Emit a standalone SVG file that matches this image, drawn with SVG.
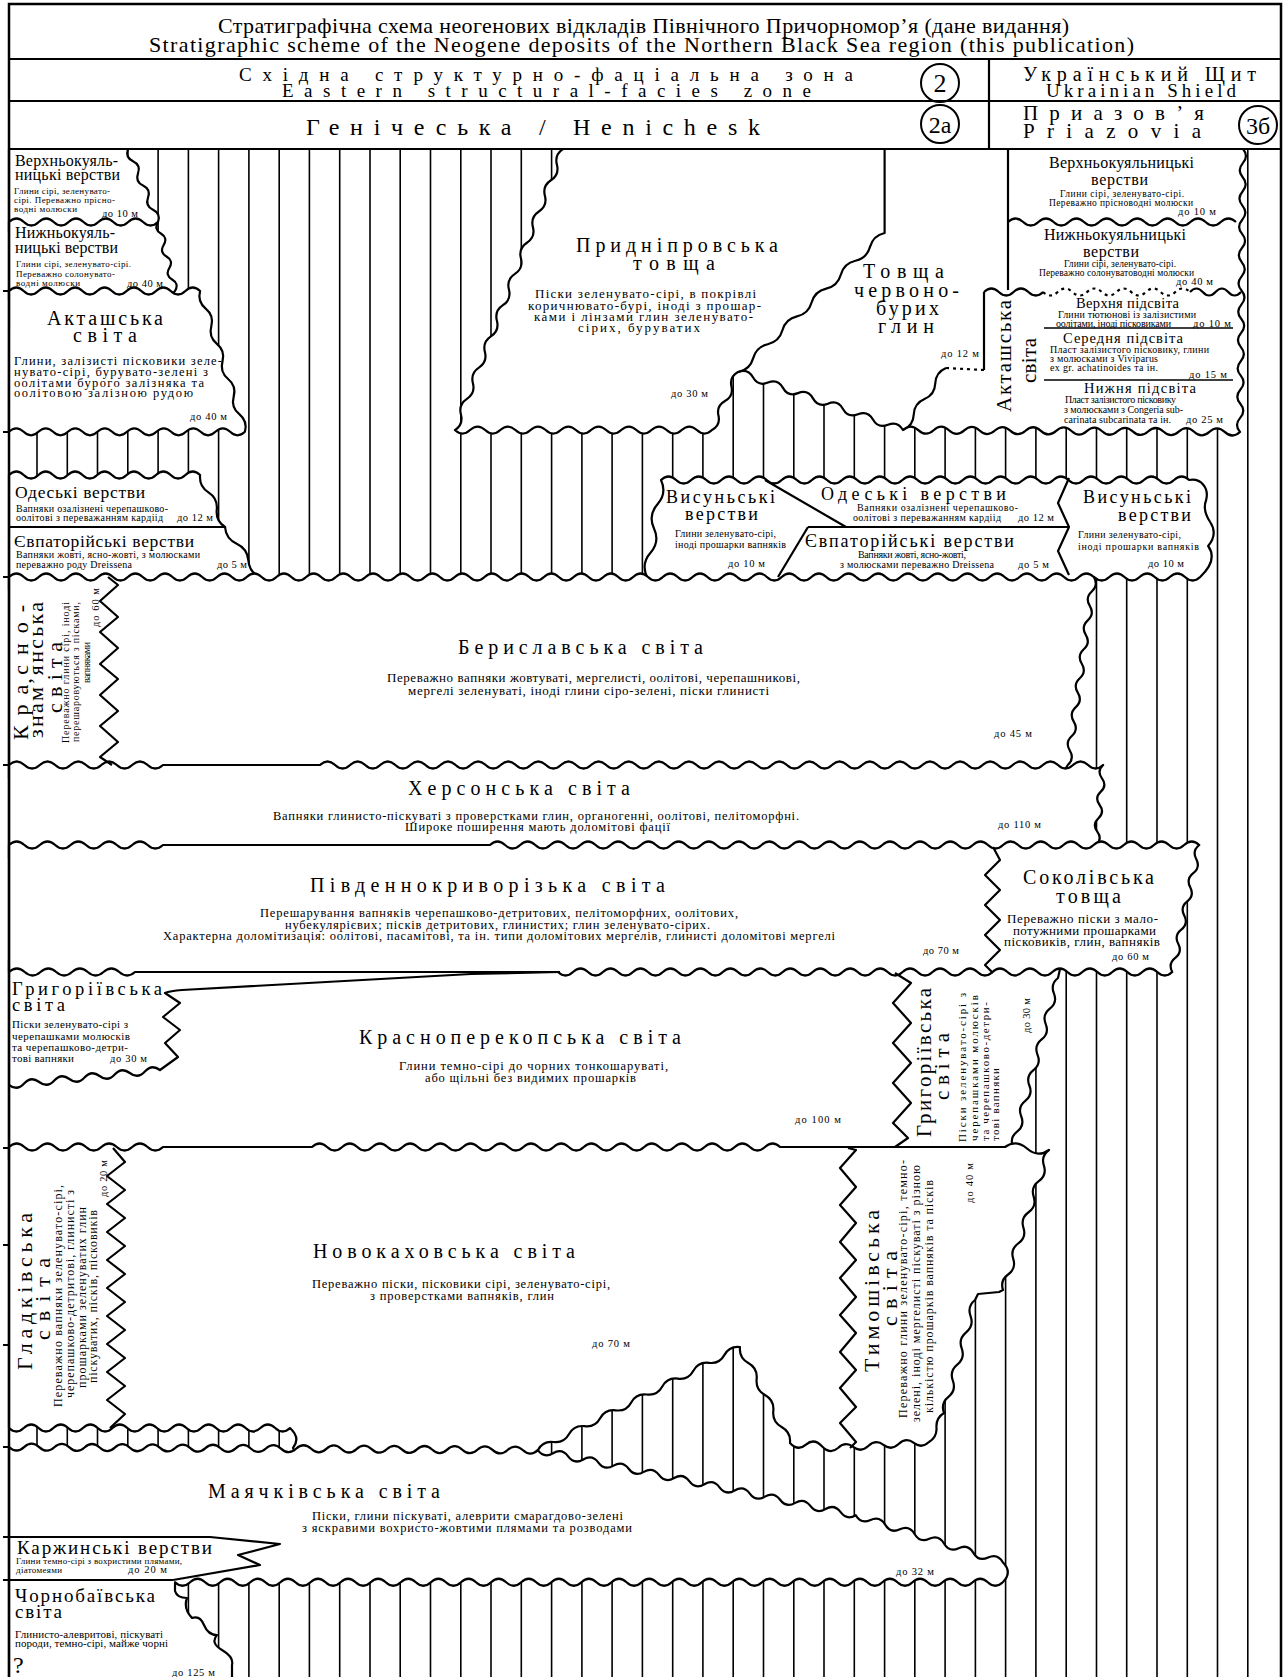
<svg xmlns="http://www.w3.org/2000/svg" width="1284" height="1677" viewBox="0 0 1284 1677">
<style>
text{font-family:"Liberation Serif","Times New Roman",serif;fill:#000}
.fm{fill:#fff;stroke:#000;stroke-width:2.2;stroke-linejoin:round}
.ln{fill:none;stroke:#000;stroke-width:2.2;stroke-linejoin:round}
.tn{fill:none;stroke:#000;stroke-width:1.6}
.dt{fill:none;stroke:#000;stroke-width:2.2;stroke-dasharray:3 4}
.hl{fill:none;stroke:#000;stroke-width:1.6}
.n{font-size:20px}
.b{font-size:12.5px}
.s{font-size:10px}
.xs{font-size:9px}
.th{font-size:10.5px}
.sh{font-size:16px}
</style>
<rect x="0" y="0" width="1284" height="1677" fill="#fff"/>
<g id="hatch">
<path class="hl" d="M37,149V1677M67.3,149V1677M97.5,149V1677M127.8,149V1677M158.1,149V1677M188.4,149V1677M218.6,149V1677M248.9,149V1677M279.2,149V1677M309.4,149V1677M339.7,149V1677M370,149V1677M400.2,149V1677M430.5,149V1677M460.8,149V1677M491,149V1677M521.3,149V1677M551.6,149V1677M581.9,149V1677M612.1,149V1677M642.4,149V1677M672.7,149V1677M702.9,149V1677M733.2,149V1677M763.5,149V1677M793.8,149V1677M824,149V1677M854.3,149V1677M884.6,149V1677M914.8,149V1677M945.1,149V1677M975.4,149V1677M1005.6,149V1677M1035.9,149V1677M1066.2,149V1677M1096.5,149V1677M1126.7,149V1677M1157,149V1677M1187.3,149V1677M1217.5,149V1677M1247.8,149V1677"/>
</g>
<g id="formations">
<path id="verkhnokuialnytski-l" class="fm" d="M9,149 H128 q-3,8.4 5,12.17 t5,12.17 t5,12.17 t5,12.17 t5,12.17 t5,12.17 L150,232 H9 Z"/>
<path id="nyzhnokuialnytski-l" class="fm" d="M9,222 q7.45,-7 14.9,0 t14.9,0 t14.9,0 t14.9,0 t14.9,0 t14.9,0 t14.9,0 t14.9,0 t14.9,0 t14.9,0 q-4.4,7.2 2.83,11.5 t2.83,11.5 t2.83,11.5 t2.83,11.5 t2.83,11.5 t2.83,11.5 L167,300 H9 Z"/>
<path id="aktashska-l" class="fm" d="M9,291 q7.35,-7 14.7,0 t14.7,0 t14.7,0 t14.7,0 t14.7,0 t14.7,0 t14.7,0 t14.7,0 t14.7,0 t14.7,0 t14.7,0 t14.7,0 t14.7,0 q-2.9,10.6 5.6,17.6 t5.6,17.6 t5.6,17.6 t5.6,17.6 t5.6,17.6 t5.6,17.6 t5.6,17.6 t5.6,17.6 q-7.38,7 -14.75,0 t-14.75,0 t-14.75,0 t-14.75,0 t-14.75,0 t-14.75,0 t-14.75,0 t-14.75,0 t-14.75,0 t-14.75,0 t-14.75,0 t-14.75,0 t-14.75,0 t-14.75,0 t-14.75,0 t-14.75,0 Z"/>
<path id="odeski-l" class="fm" d="M9,475 q7.35,-7 14.7,0 t14.7,0 t14.7,0 t14.7,0 t14.7,0 t14.7,0 t14.7,0 t14.7,0 t14.7,0 t14.7,0 t14.7,0 t14.7,0 t14.7,0 q-1.2,11.3 8.33,17.33 t8.33,17.33 t8.33,17.33 H9 Z"/>
<path id="yevpatoriiski-l" class="fm" d="M9,527 H225 q0.93,11.8 11.67,16.67 t11.67,16.67 t11.67,16.67 L250,590 H9 Z"/>
<path id="prydniprovska-tovshcha-pryazovia" class="fm" d="M563,149 H1243 q6,7.08 -0.15,14.15 t-0.15,14.15 t-0.15,14.15 t-0.15,14.15 t-0.15,14.15 t-0.15,14.15 t-0.15,14.15 t-0.15,14.15 t-0.15,14.15 t-0.15,14.15 t-0.15,14.15 t-0.15,14.15 t-0.15,14.15 t-0.15,14.15 t-0.15,14.15 t-0.15,14.15 t-0.15,14.15 t-0.15,14.15 t-0.15,14.15 t-0.15,14.15 q-7.66,7 -15.32,-0.09 t-15.32,-0.09 t-15.32,-0.09 t-15.32,-0.09 t-15.32,-0.09 t-15.32,-0.09 t-15.32,-0.09 t-15.32,-0.09 t-15.32,-0.09 t-15.32,-0.09 t-15.32,-0.09 t-15.32,-0.09 t-15.32,-0.09 t-15.32,-0.09 t-15.32,-0.09 t-15.32,-0.09 t-15.32,-0.09 t-15.32,-0.09 t-15.32,-0.09 t-15.32,-0.09 t-15.32,-0.09 t-15.32,-0.09 q-5.18,-9.24 -15,-5.27 t-15,-5.27 t-15,-5.27 t-15,-5.27 t-15,-5.27 t-15,-5.27 t-15,-5.27 t-15,-5.27 t-15,-5.27 t-15,-5.27 t-15,-5.27 q-8.72,4.8 -6.5,14.5 t-6.5,14.5 t-6.5,14.5 t-6.5,14.5 q-7.56,7 -15.12,0 t-15.12,0 t-15.12,0 t-15.12,0 t-15.12,0 t-15.12,0 t-15.12,0 t-15.12,0 t-15.12,0 t-15.12,0 t-15.12,0 t-15.12,0 t-15.12,0 t-15.12,0 t-15.12,0 t-15.12,0 t-15.12,0 q8.6,-5.65 6,-15.61 t6,-15.61 t6,-15.61 t6,-15.61 t6,-15.61 t6,-15.61 t6,-15.61 t6,-15.61 t6,-15.61 t6,-15.61 t6,-15.61 t6,-15.61 t6,-15.61 t6,-15.61 t6,-15.61 t6,-15.61 t6,-15.61 t6,-15.61 Z"/>
<path id="vysunski-odeski-yevpatoriiski-m" class="fm" d="M661,480 q7.54,-7 15.09,0 t15.09,0 t15.09,0 t15.09,0 t15.09,0 t15.09,0 t15.09,0 t15.09,0 t15.09,0 t15.09,0 t15.09,0 t15.09,0 t15.09,0 t15.09,0 t15.09,0 t15.09,0 t15.09,0 t15.09,0 t15.09,0 t15.09,0 t15.09,0 t15.09,0 t15.09,0 t15.09,0 t15.09,0 t15.09,0 t15.09,0 t15.09,0 t15.09,0 t15.09,0 t15.09,0 t15.09,0 t15.09,0 t15.09,0 t15.09,0 c12,-2 20,8 17,20 q-4,10 4,22 q8,12 -2,24 q10,14 -8,31 q-7.57,7 -15.14,0 t-15.14,0 t-15.14,0 t-15.14,0 t-15.14,0 t-15.14,0 t-15.14,0 L1085,592 H655 L647,577 q-6.15,-13.3 3.5,-24.25 t3.5,-24.25 t3.5,-24.25 t3.5,-24.25 Z"/>
<path id="beryslavska" class="fm" d="M9,577 q7.43,-7 14.86,0 t14.86,0 t14.86,0 t14.86,0 t14.86,0 t14.86,0 t14.86,0 t14.86,0 t14.86,0 t14.86,0 t14.86,0 t14.86,0 t14.86,0 t14.86,0 t14.86,0 t14.86,0 t14.86,0 t14.86,0 t14.86,0 t14.86,0 t14.86,0 t14.86,0 t14.86,0 t14.86,0 t14.86,0 t14.86,0 t14.86,0 t14.86,0 t14.86,0 t14.86,0 t14.86,0 t14.86,0 t14.86,0 t14.86,0 t14.86,0 t14.86,0 t14.86,0 t14.86,0 t14.86,0 t14.86,0 t14.86,0 t14.86,0 t14.86,0 t14.86,0 t14.86,0 t14.86,0 t14.86,0 t14.86,0 t14.86,0 t14.86,0 t14.86,0 t14.86,0 t14.86,0 t14.86,0 t14.86,0 t14.86,0 t14.86,0 t14.86,0 t14.86,0 t14.86,0 t14.86,0 t14.86,0 t14.86,0 t14.86,0 t14.86,0 t14.86,0 t14.86,0 t14.86,0 t14.86,0 t14.86,0 t14.86,0 t14.86,0 t14.86,0 q4.94,8.05 -2,14.46 t-2,14.46 t-2,14.46 t-2,14.46 t-2,14.46 t-2,14.46 t-2,14.46 t-2,14.46 t-2,14.46 t-2,14.46 t-2,14.46 t-2,14.46 t-2,14.46 L1060,778 H9 Z"/>
<path id="khersonska" class="fm" d="M9,765 q7.7,-7 15.4,0 t15.4,0 t15.4,0 t15.4,0 t15.4,0 t15.4,0 t15.4,0 t15.4,0 t15.4,0 t15.4,0 H320 q7.53,-7 15.06,0 t15.06,0 t15.06,0 t15.06,0 t15.06,0 t15.06,0 t15.06,0 t15.06,0 t15.06,0 t15.06,0 t15.06,0 t15.06,0 t15.06,0 t15.06,0 t15.06,0 t15.06,0 t15.06,0 t15.06,0 t15.06,0 t15.06,0 t15.06,0 t15.06,0 t15.06,0 t15.06,0 t15.06,0 t15.06,0 t15.06,0 t15.06,0 t15.06,0 t15.06,0 t15.06,0 t15.06,0 t15.06,0 t15.06,0 t15.06,0 t15.06,0 t15.06,0 t15.06,0 t15.06,0 t15.06,0 t15.06,0 t15.06,0 t15.06,0 t15.06,0 t15.06,0 t15.06,0 t15.06,0 t15.06,0 t15.06,0 t15.06,0 t15.06,0 t15.06,0 q-6.56,6.15 -1.17,13.33 t-1.17,13.33 t-1.17,13.33 t-1.17,13.33 t-1.17,13.33 t-1.17,13.33 L1088,858 H9 Z"/>
<path id="krasnoperekopska-hryhoriivska" class="fm" d="M9,960 H1062 L1058,978 q-7.85,6.14 -4.09,15.36 t-4.09,15.36 t-4.09,15.36 t-4.09,15.36 t-4.09,15.36 t-4.09,15.36 t-4.09,15.36 t-4.09,15.36 t-4.09,15.36 t-4.09,15.36 t-4.09,15.36 L1005,1160 H9 Z"/>
<path id="pivdennokryvorizka-sokolivska" class="fm" d="M9,845 q7.7,-7 15.4,0 t15.4,0 t15.4,0 t15.4,0 t15.4,0 t15.4,0 t15.4,0 t15.4,0 t15.4,0 t15.4,0 H490 q7.54,-7 15.09,0 t15.09,0 t15.09,0 t15.09,0 t15.09,0 t15.09,0 t15.09,0 t15.09,0 t15.09,0 t15.09,0 t15.09,0 t15.09,0 t15.09,0 t15.09,0 t15.09,0 t15.09,0 t15.09,0 t15.09,0 t15.09,0 t15.09,0 t15.09,0 t15.09,0 t15.09,0 t15.09,0 t15.09,0 t15.09,0 t15.09,0 t15.09,0 t15.09,0 t15.09,0 t15.09,0 t15.09,0 t15.09,0 t15.09,0 t15.09,0 t15.09,0 t15.09,0 t15.09,0 t15.09,0 t15.09,0 t15.09,0 t15.09,0 t15.09,0 t15.09,0 t15.09,0 t15.09,0 t15.09,0 q-7.37,5.81 -3,14.11 t-3,14.11 t-3,14.11 t-3,14.11 t-3,14.11 t-3,14.11 t-3,14.11 t-3,14.11 t-3,14.11 q-7.49,7 -14.98,0 t-14.98,0 t-14.98,0 t-14.98,0 t-14.98,0 t-14.98,0 t-14.98,0 t-14.98,0 t-14.98,0 t-14.98,0 t-14.98,0 t-14.98,0 t-14.98,0 t-14.98,0 t-14.98,0 t-14.98,0 t-14.98,0 t-14.98,0 t-14.98,0 t-14.98,0 t-14.98,0 t-14.98,0 t-14.98,0 t-14.98,0 t-14.98,0 t-14.98,0 t-14.98,0 t-14.98,0 t-14.98,0 t-14.98,0 t-14.98,0 t-14.98,0 t-14.98,0 t-14.98,0 t-14.98,0 t-14.98,0 t-14.98,0 t-14.98,0 t-14.98,0 t-14.98,0 t-14.98,0 H135 q-7.88,7 -15.75,0 t-15.75,0 t-15.75,0 t-15.75,0 t-15.75,0 t-15.75,0 t-15.75,0 t-15.75,0 Z"/>
<path id="novokakhovska-hladkivska-tymoshivska" class="fm" d="M9,1147 q7.7,-7 15.4,0 t15.4,0 t15.4,0 t15.4,0 t15.4,0 t15.4,0 t15.4,0 t15.4,0 t15.4,0 t15.4,0 H312 q7.55,-7 15.1,0 t15.1,0 t15.1,0 t15.1,0 t15.1,0 t15.1,0 t15.1,0 t15.1,0 t15.1,0 t15.1,0 t15.1,0 t15.1,0 t15.1,0 t15.1,0 t15.1,0 t15.1,0 t15.1,0 t15.1,0 t15.1,0 t15.1,0 t15.1,0 t15.1,0 t15.1,0 t15.1,0 t15.1,0 t15.1,0 t15.1,0 t15.1,0 t15.1,0 t15.1,0 t15.1,0 H1005 q11,-8 22,1.5 t22,1.5 q-8.26,5.91 -5.11,15.56 t-5.11,15.56 t-5.11,15.56 t-5.11,15.56 t-5.11,15.56 t-5.11,15.56 t-5.11,15.56 t-5.11,15.56 t-5.11,15.56 L999,1292 L978,1294 L975,1300 q-8,6.48 -4.43,16.14 t-4.43,16.14 t-4.43,16.14 t-4.43,16.14 t-4.43,16.14 t-4.43,16.14 t-4.43,16.14 q-8.2,4.95 -7.5,14.5 t-7.5,14.5 q-7.58,7 -15.17,1 t-15.17,1 t-15.17,1 t-15.17,1 t-15.17,1 t-15.17,1 q-8,7 -16,-1.67 t-16,-1.67 t-16,-1.67 q1.15,-10.77 -8.33,-16 t-8.33,-16 t-8.33,-16 t-8.33,-16 t-8.33,-16 t-8.33,-16 q-10.49,-1.39 -15.54,7.92 t-15.54,7.92 t-15.54,7.92 t-15.54,7.92 t-15.54,7.92 t-15.54,7.92 t-15.54,7.92 t-15.54,7.92 t-15.54,7.92 t-15.54,7.92 t-15.54,7.92 t-15.54,7.92 t-15.54,7.92 L530,1462 H300 L293,1448 q8,-10 -3,-20 q-7.4,7 -14.79,0 t-14.79,0 t-14.79,0 t-14.79,0 t-14.79,0 t-14.79,0 t-14.79,0 t-14.79,0 t-14.79,0 t-14.79,0 t-14.79,0 t-14.79,0 t-14.79,0 t-14.79,0 t-14.79,0 t-14.79,0 t-14.79,0 t-14.79,0 t-14.79,0 Z"/>
<path id="maiachkivska-karzhynski-chornobaivska" class="fm" d="M9,1447 q7.56,7 15.11,0.09 t15.11,0.09 t15.11,0.09 t15.11,0.09 t15.11,0.09 t15.11,0.09 t15.11,0.09 t15.11,0.09 t15.11,0.09 t15.11,0.09 t15.11,0.09 t15.11,0.09 t15.11,0.09 t15.11,0.09 t15.11,0.09 t15.11,0.09 t15.11,0.09 t15.11,0.09 t15.11,0.09 t15.11,0.09 t15.11,0.09 t15.11,0.09 t15.11,0.09 t15.11,0.09 t15.11,0.09 t15.11,0.09 t15.11,0.09 t15.11,0.09 t15.11,0.09 t15.11,0.09 t15.11,0.09 t15.11,0.09 t15.11,0.09 t15.11,0.09 t15.11,0.09 q6.17,8.41 15.14,3.1 t15.14,3.1 t15.14,3.1 t15.14,3.1 t15.14,3.1 t15.14,3.1 t15.14,3.1 t15.14,3.1 t15.14,3.1 t15.14,3.1 t15.14,3.1 t15.14,3.1 t15.14,3.1 t15.14,3.1 t15.14,3.1 t15.14,3.1 t15.14,3.1 t15.14,3.1 t15.14,3.1 t15.14,3.1 t15.14,3.1 q5.22,9.02 14.7,4.7 t14.7,4.7 t14.7,4.7 t14.7,4.7 t14.7,4.7 t14.7,4.7 t14.7,4.7 t14.7,4.7 t14.7,4.7 t14.7,4.7 q10,10 0,20 q-7.53,7 -15.05,0 t-15.05,0 t-15.05,0 t-15.05,0 t-15.05,0 t-15.05,0 t-15.05,0 t-15.05,0 t-15.05,0 t-15.05,0 t-15.05,0 t-15.05,0 t-15.05,0 t-15.05,0 t-15.05,0 t-15.05,0 t-15.05,0 t-15.05,0 t-15.05,0 t-15.05,0 t-15.05,0 t-15.05,0 t-15.05,0 t-15.05,0 t-15.05,0 t-15.05,0 t-15.05,0 t-15.05,0 t-15.05,0 t-15.05,0 t-15.05,0 t-15.05,0 t-15.05,0 t-15.05,0 t-15.05,0 t-15.05,0 t-15.05,0 t-15.05,0 t-15.05,0 t-15.05,0 t-15.05,0 t-15.05,0 t-15.05,0 t-15.05,0 t-15.05,0 t-15.05,0 t-15.05,0 t-15.05,0 t-15.05,0 t-15.05,0 t-15.05,0 t-15.05,0 t-15.05,0 t-15.05,0 t-15.05,0 L175,1591 Q177,1598 187,1598 q-4,10 5,20 q8,-3 12,7 t13,10 q-7,8 5,15 t10,15 V1680 H9 Z"/>
</g>
<g id="boundaries">
<path class="ln" d="M884.6,149 V233 q-11.44,2.6 -14.6,13.9 t-14.6,13.9 t-14.6,13.9 t-14.6,13.9 t-14.6,13.9 t-14.6,13.9 t-14.6,13.9 t-14.6,13.9 t-14.6,13.9 t-14.6,13.9"/>
<path class="ln" d="M1008,149 V290"/>
<path class="ln" d="M1008,222 q7.6,-7 15.2,0 t15.2,0 t15.2,0 t15.2,0 t15.2,0 t15.2,0 t15.2,0 t15.2,0 t15.2,0 t15.2,0 t15.2,0 t15.2,0 t15.2,0 t15.2,0 t15.2,0"/>
<path class="ln" d="M984,292 q7.4,-7 14.8,0 t14.8,0 t14.8,0 t14.8,0"/>
<path class="dt" d="M1043,292 q7.35,7 14.7,0 t14.7,0 t14.7,0 t14.7,0 t14.7,0 t14.7,0 t14.7,0 t14.7,0 t14.7,0 t14.7,0"/>
<path class="ln" d="M1190,292 q6.4,-7 12.75,0 t12.75,0 t12.75,0 t12.75,0"/>
<path class="ln" d="M984,292 V370"/>
<path class="dt" d="M984,370 L946,368"/>
<path class="ln" d="M946,368 q-10.3,4.33 -10.75,15.5 t-10.75,15.5 t-10.75,15.5 t-10.75,15.5"/>
<path class="tn" d="M1044,328 H1233 M1044,380 H1233"/>
<path class="ln" d="M765,480 L846,527 M808,527 H1069 M808,527 L778,577 M1069,478 L1058,503 L1069,527 L1058,551 L1069,575"/>
<path class="ln" d="M108,577 L118,585 L100,601 L118,617 L100,632 L118,648 L100,664 L118,679 L100,695 L118,711 L100,726 L118,742 L100,757 L112,765"/>
<path class="ln" d="M993,847 L1000,860 L985,875 L1000,890 L985,905 L1000,920 L985,935 L1000,950 L985,965 L993,973"/>
<path class="ln" d="M560,972 L471,974 L182,990 Q170,991 165,993 L180,1003 L163,1017 L180,1030 L165,1043 L178,1057 L160,1070 q-8.24,-6.22 -15.1,1.5 t-15.1,1.5 t-15.1,1.5 t-15.1,1.5 t-15.1,1.5 t-15.1,1.5 t-15.1,1.5 t-15.1,1.5 t-15.1,1.5 t-15.1,1.5"/>
<path class="ln" d="M895,973 L911,983 L893,1003 L911,1023 L893,1043 L911,1063 L893,1083 L911,1103 L893,1123 L908,1138 L895,1147"/>
<path class="ln" d="M113,1148 L125,1162 L107,1176 L125,1190 L107,1204 L125,1218 L107,1232 L125,1246 L107,1260 L125,1274 L107,1288 L125,1302 L107,1316 L125,1330 L107,1344 L125,1358 L107,1372 L125,1386 L107,1400 L125,1414 L110,1428"/>
<path class="ln" d="M848,1148 L856,1150 L840,1168 L856,1187 L840,1205 L856,1223 L840,1242 L856,1260 L840,1278 L856,1297 L840,1315 L856,1333 L840,1352 L856,1370 L840,1388 L856,1407 L840,1423 L856,1442 L850,1448"/>
<path class="ln" d="M9,1537 H210 L280,1544 L238,1555 L260,1565 L173,1580 M9,1580 H173"/>
</g>
<g id="labels">
<text x="15" y="166" class="sh" textLength="103">Верхньокуяль-</text>
<text x="15" y="180" class="sh" textLength="105">ницькі верстви</text>
<text x="14" y="194" class="xs" textLength="96">Глини сірі, зеленувато-</text>
<text x="14" y="203" class="xs" textLength="101">сірі. Переважно прісно-</text>
<text x="14" y="212" class="xs" textLength="63">водні молюски</text>
<text x="102" y="217" class="th" textLength="36">до 10 м</text>
<text x="15" y="238" class="sh" textLength="100">Нижньокуяль-</text>
<text x="15" y="253" class="sh" textLength="103">ницькі верстви</text>
<text x="16" y="267" class="xs" textLength="115">Глини сірі, зеленувато-сірі.</text>
<text x="16" y="277" class="xs" textLength="99">Переважно солонувато-</text>
<text x="16" y="286" class="xs" textLength="64">водні молюски</text>
<text x="127" y="287" class="th" textLength="36">до 40 м</text>
<text x="47" y="325" class="n" textLength="116">Акташська</text>
<text x="73" y="342" class="n" textLength="64">світа</text>
<text x="14" y="365" font-size="12.5" textLength="208">Глини, залізисті пісковики зеле-</text>
<text x="14" y="376" font-size="12.5" textLength="194">нувато-сірі, бурувато-зелені з</text>
<text x="14" y="386.5" font-size="12.5" textLength="190">оолітами бурого залізняка та</text>
<text x="14" y="397" font-size="12.5" textLength="179">оолітовою залізною рудою</text>
<text x="190" y="420" class="th" textLength="37">до 40 м</text>
<text x="576" y="252" class="n" textLength="202">Придніпровська</text>
<text x="633" y="270" class="n" textLength="82">товща</text>
<text x="535" y="298" font-size="13" textLength="221">Піски зеленувато-сірі, в покрівлі</text>
<text x="528" y="309.5" font-size="13" textLength="233">коричнювато-бурі, іноді з прошар-</text>
<text x="534" y="320.5" font-size="13" textLength="219">ками і лінзами глин зеленувато-</text>
<text x="578" y="332" font-size="13" textLength="122">сірих, буруватих</text>
<text x="671" y="397" class="th" textLength="37">до 30 м</text>
<text x="863" y="278" class="n" textLength="81">Товща</text>
<text x="854" y="297" class="n" textLength="105">червоно-</text>
<text x="876" y="315" class="n" textLength="63">бурих</text>
<text x="878" y="333" class="n" textLength="56">глин</text>
<text x="941" y="357" class="th" textLength="38">до 12 м</text>
<text x="1049" y="168" class="sh" textLength="145">Верхньокуяльницькі</text>
<text x="1091" y="185" class="sh" textLength="57">верстви</text>
<text x="1060" y="197" font-size="9.5" textLength="124">Глини сірі, зеленувато-сірі.</text>
<text x="1049" y="206" font-size="9.5" textLength="144">Переважно прісноводні молюски</text>
<text x="1178" y="215" class="th" textLength="38">до 10 м</text>
<text x="1044" y="240" class="sh" textLength="142">Нижньокуяльницькі</text>
<text x="1083" y="257" class="sh" textLength="56">верстви</text>
<text x="1064" y="267" font-size="9.5" textLength="112">Глини сірі, зеленувато-сірі.</text>
<text x="1039" y="275.5" font-size="9.5" textLength="155">Переважно солонуватоводні молюски</text>
<text x="1176" y="285" class="th" textLength="37">до 40 м</text>
<text transform="translate(1011,412) rotate(-90)" font-size="21" textLength="112">Акташська</text>
<text transform="translate(1036,383) rotate(-90)" font-size="21" textLength="45">світа</text>
<text x="1076" y="308" font-size="14.5" textLength="103">Верхня підсвіта</text>
<text x="1058" y="317.5" class="s" textLength="138">Глини тютюнові із залізистими</text>
<text x="1056" y="327" class="s" textLength="115">оолітами, іноді пісковиками</text>
<text x="1193" y="327" class="th" textLength="38">до 10 м</text>
<text x="1063" y="343" font-size="14.5" textLength="120">Середня підсвіта</text>
<text x="1050" y="353" class="s" textLength="159">Пласт залізистого пісковику, глини</text>
<text x="1050" y="362" class="s" textLength="108">з молюсками з Viviparus</text>
<text x="1050" y="371" class="s" textLength="108">ex gr. achatinoides та ін.</text>
<text x="1189" y="378" class="th" textLength="38">до 15 м</text>
<text x="1084" y="393" font-size="14.5" textLength="112">Нижня підсвіта</text>
<text x="1065" y="403" class="s" textLength="111">Пласт залізистого пісковику</text>
<text x="1064" y="412.5" class="s" textLength="119">з молюсками з Congeria sub-</text>
<text x="1064" y="423" class="s" textLength="107">carinata subcarinata та ін.</text>
<text x="1186" y="423" class="th" textLength="37">до 25 м</text>
<text x="15" y="498" font-size="17.5" textLength="130">Одеські верстви</text>
<text x="16" y="512" class="s" textLength="152">Вапняки озалізнені черепашково-</text>
<text x="16" y="521" class="s" textLength="147">оолітові з переважанням кардіід</text>
<text x="177" y="521" class="th" textLength="36">до 12 м</text>
<text x="14" y="547" font-size="17.5" textLength="180">Євпаторійські верстви</text>
<text x="16" y="558" class="s" textLength="184">Вапняки жовті, ясно-жовті, з молюсками</text>
<text x="16" y="568" class="s" textLength="116">переважно роду Dreissena</text>
<text x="217" y="568" class="th" textLength="30">до 5 м</text>
<text x="666" y="503" font-size="18" textLength="109">Висуньські</text>
<text x="685" y="520" font-size="18" textLength="73">верстви</text>
<text x="675" y="537" class="s" textLength="101">Глини зеленувато-сірі,</text>
<text x="675" y="548" class="s" textLength="111">іноді прошарки вапняків</text>
<text x="728" y="567" class="th" textLength="37">до 10 м</text>
<text x="821" y="500" font-size="18" textLength="185">Одеські верстви</text>
<text x="857" y="511" class="s" textLength="161">Вапняки озалізнені черепашково-</text>
<text x="853" y="521" class="s" textLength="148">оолітові з переважанням кардіід</text>
<text x="1018" y="521" class="th" textLength="36">до 12 м</text>
<text x="805" y="547" font-size="18" textLength="209">Євпаторійські верстви</text>
<text x="858" y="558" class="s" textLength="108">Вапняки жовті, ясно-жовті,</text>
<text x="840" y="568" class="s" textLength="154">з молюсками переважно Dreissena</text>
<text x="1018" y="568" class="th" textLength="31">до 5 м</text>
<text x="1083" y="503" font-size="18" textLength="108">Висуньські</text>
<text x="1118" y="521" font-size="18" textLength="73">верстви</text>
<text x="1078" y="538" class="s" textLength="103">Глини зеленувато-сірі,</text>
<text x="1078" y="550" class="s" textLength="121">іноді прошарки вапняків</text>
<text x="1148" y="567" class="th" textLength="36">до 10 м</text>
<text x="458" y="654" class="n" textLength="245">Бериславська світа</text>
<text x="387" y="682" font-size="13" textLength="413">Переважно вапняки жовтуваті, мергелисті, оолітові, черепашникові,</text>
<text x="408" y="695" font-size="13" textLength="361">мергелі зеленуваті, іноді глини сіро-зелені, піски глинисті</text>
<text x="994" y="737" class="th" textLength="38">до 45 м</text>
<text transform="translate(28,740) rotate(-90)" font-size="22" textLength="135">Красно-</text>
<text transform="translate(43,738) rotate(-90)" font-size="22" textLength="136">знам’янська</text>
<text transform="translate(62,713) rotate(-90)" font-size="22" textLength="71">світа</text>
<text transform="translate(69,743) rotate(-90)" class="s" textLength="141">Переважно глини сірі, іноді</text>
<text transform="translate(79,742) rotate(-90)" class="s" textLength="140">перешаровуються з пісками,</text>
<text transform="translate(90,683) rotate(-90)" class="s" textLength="41">вапняками</text>
<text transform="translate(99,627) rotate(-90)" class="th" textLength="39">до 60 м</text>
<text x="408" y="795" class="n" textLength="222">Херсонська світа</text>
<text x="273" y="820" class="b" textLength="526">Вапняки глинисто-піскуваті з проверстками глин, органогенні, оолітові, пелітоморфні.</text>
<text x="405" y="831" class="b" textLength="265">Широке поширення мають доломітові фації</text>
<text x="998" y="828" class="th" textLength="43">до 110 м</text>
<text x="310" y="892" class="n" textLength="355">Південнокриворізька світа</text>
<text x="260" y="917" class="b" textLength="478">Перешарування вапняків черепашково-детритових, пелітоморфних, оолітових,</text>
<text x="285" y="928.5" class="b" textLength="425">нубекулярієвих; пісків детритових, глинистих; глин зеленувато-сірих.</text>
<text x="163" y="940" class="b" textLength="672">Характерна доломітизація: оолітові, пасамітові, та ін. типи доломітових мергелів, глинисті доломітові мергелі</text>
<text x="923" y="954" class="th" textLength="36">до 70 м</text>
<text x="1023" y="884" class="n" textLength="131">Соколівська</text>
<text x="1056" y="903" class="n" textLength="65">товща</text>
<text x="1007" y="923" font-size="13" textLength="151">Переважно піски з мало-</text>
<text x="1013" y="934.5" font-size="13" textLength="143">потужними прошарками</text>
<text x="1004" y="946" font-size="13" textLength="156">пісковиків, глин, вапняків</text>
<text x="1112" y="960" class="th" textLength="37">до 60 м</text>
<text x="12" y="995" font-size="18.5" textLength="150">Григоріївська</text>
<text x="12" y="1011" font-size="18.5" textLength="53">світа</text>
<text x="12" y="1028" font-size="11" textLength="116">Піски зеленувато-сірі з</text>
<text x="12" y="1040" font-size="11" textLength="118">черепашками молюсків</text>
<text x="12" y="1051" font-size="11" textLength="116">та черепашково-детри-</text>
<text x="12" y="1062" font-size="11" textLength="62">тові вапняки</text>
<text x="110" y="1062" class="th" textLength="37">до 30 м</text>
<text x="359" y="1044" class="n" textLength="322">Красноперекопська світа</text>
<text x="399" y="1070" font-size="12.5" textLength="269">Глини темно-сірі до чорних тонкошаруваті,</text>
<text x="425" y="1081.5" font-size="12.5" textLength="211">або щільні без видимих прошарків</text>
<text x="795" y="1123" class="th" textLength="46">до 100 м</text>
<text transform="translate(931,1137) rotate(-90)" font-size="21" textLength="149">Григоріївська</text>
<text transform="translate(949,1100) rotate(-90)" font-size="21" textLength="67">світа</text>
<text transform="translate(966,1142) rotate(-90)" font-size="11" textLength="149">Піски зеленувато-сірі з</text>
<text transform="translate(978,1141) rotate(-90)" font-size="11" textLength="146">черепашками молюсків</text>
<text transform="translate(989,1141) rotate(-90)" font-size="11" textLength="139">та черепашково-детри-</text>
<text transform="translate(999,1141) rotate(-90)" font-size="11" textLength="73">тові вапняки</text>
<text transform="translate(1030,1033) rotate(-90)" class="th" textLength="35">до 30 м</text>
<text x="313" y="1258" class="n" textLength="262">Новокаховська світа</text>
<text x="312" y="1288" class="b" textLength="298">Переважно піски, пісковики сірі, зеленувато-сірі,</text>
<text x="370" y="1299.5" class="b" textLength="184">з проверстками вапняків, глин</text>
<text x="592" y="1347" class="th" textLength="38">до 70 м</text>
<text transform="translate(32,1370) rotate(-90)" font-size="22" textLength="157">Гладківська</text>
<text transform="translate(50,1340) rotate(-90)" font-size="22" textLength="82">світа</text>
<text transform="translate(62,1407) rotate(-90)" font-size="12" textLength="222">Переважно вапняки зеленувато-сірі,</text>
<text transform="translate(74,1398) rotate(-90)" font-size="12" textLength="208">черепашково-детритові, глинисті з</text>
<text transform="translate(86,1388) rotate(-90)" font-size="12" textLength="181">прошарками зеленуватих глин</text>
<text transform="translate(97,1383) rotate(-90)" font-size="12" textLength="173">піскуватих, пісків, пісковиків</text>
<text transform="translate(107,1197) rotate(-90)" class="th" textLength="37">до 20 м</text>
<text transform="translate(879,1372) rotate(-90)" font-size="22" textLength="162">Тимошівська</text>
<text transform="translate(897,1326) rotate(-90)" font-size="22" textLength="75">світа</text>
<text transform="translate(907,1418) rotate(-90)" font-size="12" textLength="258">Переважно глини зеленувато-сірі, темно-</text>
<text transform="translate(920,1422) rotate(-90)" font-size="12" textLength="257">зелені, іноді мергелисті піскуваті з різною</text>
<text transform="translate(933,1413) rotate(-90)" font-size="12" textLength="233">кількістю прошарків вапняків та пісків</text>
<text transform="translate(973,1203) rotate(-90)" class="th" textLength="40">до 40 м</text>
<text x="208" y="1498" class="n" textLength="232">Маячківська світа</text>
<text x="312" y="1520" class="b" textLength="311">Піски, глини піскуваті, алеврити смарагдово-зелені</text>
<text x="302" y="1532" class="b" textLength="330">з яскравими вохристо-жовтими плямами та розводами</text>
<text x="896" y="1575" class="th" textLength="38">до 32 м</text>
<text x="17" y="1554" font-size="19" textLength="195">Каржинські верстви</text>
<text x="16" y="1564" class="xs" textLength="166">Глини темно-сірі з вохристими плямами,</text>
<text x="16" y="1573" class="xs" textLength="46">діатомеями</text>
<text x="128" y="1573" class="th" textLength="39">до 20 м</text>
<text x="15" y="1602" font-size="19" textLength="140">Чорнобаївська</text>
<text x="15" y="1618" font-size="19" textLength="47">світа</text>
<text x="15" y="1638" font-size="11" textLength="148">Глинисто-алевритові, піскуваті</text>
<text x="15" y="1647" font-size="11" textLength="153">породи, темно-сірі, майже чорні</text>
<text x="13" y="1673" font-size="24">?</text>
<text x="172" y="1676" class="th" textLength="43">до 125 м</text>
</g>
<g id="header">
<rect x="9" y="4" width="1272" height="1700" fill="none" stroke="#000" stroke-width="2.5"/>
<path class="ln" d="M9,59 H1281 M9,101 H1281 M9,149 H1281 M989,59 V149"/>
<path class="ln" d="M3,291 H9 M3,432 H9 M3,577 H9 M3,765 H9 M3,1148 H9 M3,1245 H9 M3,1345 H9 M3,1447 H9 M3,1537 H9 M3,1580 H9"/>
<text x="218" y="33" font-size="22" textLength="851">Стратиграфічна схема неогенових відкладів Північного Причорномор’я (дане видання)</text>
<text x="149" y="52" font-size="22" textLength="985">Stratigraphic scheme of the Neogene deposits of the Northern Black Sea region (this publication)</text>
<text x="239" y="81" font-size="19" textLength="614">Східна структурно-фаціальна зона</text>
<text x="282" y="97" font-size="19" textLength="529">Eastern structural-facies zone</text>
<text x="306" y="135" font-size="24" textLength="454">Генічеська / Henichesk</text>
<text x="1023" y="81" font-size="20" textLength="233">Український Щит</text>
<text x="1046" y="97" font-size="19" textLength="190">Ukrainian Shield</text>
<text x="1023" y="120" font-size="21" textLength="181">Приазов’я</text>
<text x="1023" y="138" font-size="21" textLength="178">Priazovia</text>
<circle cx="940" cy="83" r="19" fill="none" stroke="#000" stroke-width="2"/>
<text x="940" y="92" font-size="26" text-anchor="middle">2</text>
<circle cx="940" cy="124" r="19" fill="none" stroke="#000" stroke-width="2"/>
<text x="940" y="133" font-size="24" text-anchor="middle">2а</text>
<circle cx="1258" cy="125" r="19" fill="none" stroke="#000" stroke-width="2"/>
<text x="1258" y="134" font-size="24" text-anchor="middle">3б</text>
</g>
</svg>
